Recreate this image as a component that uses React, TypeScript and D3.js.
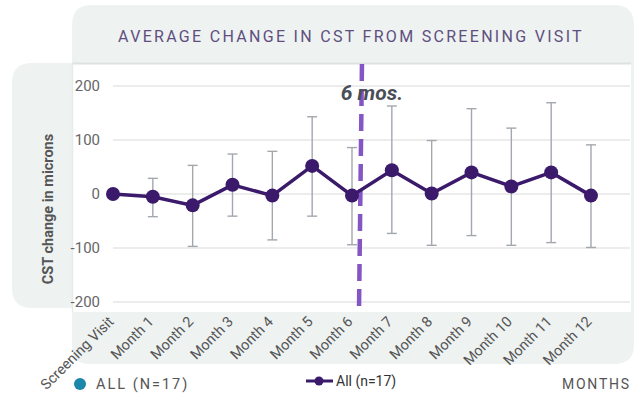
import React from "react";
import * as d3 from "d3";

const categories = [
  "Screening Visit", "Month 1", "Month 2", "Month 3", "Month 4", "Month 5", "Month 6",
  "Month 7", "Month 8", "Month 9", "Month 10", "Month 11", "Month 12",
];
const means = [0, -5, -21, 17, -3, 52, -3, 44, 1, 40, 14, 40, -3];
const upper = [null, 29, 53, 74, 79, 143, 86, 163, 99, 158, 122, 169, 91];
const lower = [null, -42, -97, -41, -85, -41, -94, -73, -95, -77, -95, -90, -99];
const yTicks = [200, 100, 0, -100, -200];

const W = 644;
const H = 400;
const BG = "#eef2f1";
const PURPLE = "#3b1a6b";
const FONT = "Roboto, 'Noto Sans', sans-serif";

export default function App() {
  const x = d3.scalePoint<string>().domain(categories).range([113, 591]);
  const y = d3.scaleLinear().domain([-200, 200]).range([302, 86]);

  const pts = categories.map((c, i) => ({ c, v: means[i], hi: upper[i], lo: lower[i] }));
  const line = d3
    .line<{ c: string; v: number }>()
    .x((d) => x(d.c)!)
    .y((d) => y(d.v));

  const x6 = x("Month 6")!;
  const x7 = x("Month 7")!;
  const markX = x6 + (x7 - x6) * 0.2;

  return (
    <svg
      width={W}
      height={H}
      style={{ position: "absolute", left: 0, top: 0, fontFamily: FONT }}
    >
      {/* top + right + bottom gray frame */}
      <path
        d="M72,25 Q72,5 92,5 L614,5 Q634,5 634,25 L634,345 Q634,364 614,364 L90,364 Q72,364 72,346 Z"
        fill={BG}
      />
      {/* left label panel */}
      <path d="M72,63 L32,63 Q12,63 12,83 L12,288 Q12,308 32,308 L72,308 Z" fill={BG} />
      {/* plot area */}
      <rect x={72} y={63} width={559} height={249} fill="#fff" />
      <line x1={72} x2={631} y1={63.5} y2={63.5} stroke="#dde2e1" strokeWidth={2} />
      <line x1={72.5} x2={72.5} y1={63} y2={312} stroke="#e6eae9" strokeWidth={1.5} />

      <text
        x={351}
        y={42}
        textAnchor="middle"
        fontSize={16}
        letterSpacing={2.3}
        fill="#5e4f80"
      >
        AVERAGE CHANGE IN CST FROM SCREENING VISIT
      </text>

      {/* grid + y ticks */}
      {yTicks.map((t) => (
        <g key={t}>
          <line x1={113} x2={630} y1={y(t)} y2={y(t)} stroke="#d9d9d9" strokeWidth={1} />
          <text x={100} y={y(t)} dy="0.36em" textAnchor="end" fontSize={15} fill="#666">
            {t}
          </text>
        </g>
      ))}

      <text
        transform="translate(53,209) rotate(-90)"
        textAnchor="middle"
        fontSize={14.5}
        fontWeight="bold"
        fill="#555"
      >
        CST change in microns
      </text>

      {/* 6 month marker */}
      <line
        x1={markX + 2}
        x2={markX - 1}
        y1={64}
        y2={312}
        stroke="#8455c5"
        strokeWidth={4.5}
        strokeDasharray="17 8"
      />
      <text
        x={markX + 12}
        y={100}
        textAnchor="middle"
        fontSize={21}
        fontWeight="bold"
        fontStyle="italic"
        fill="#4a4f57"
      >
        6 mos.
      </text>

      {/* error bars */}
      {pts
        .filter((d) => d.hi !== null)
        .map((d) => {
          const cx = x(d.c)!;
          return (
            <g key={d.c} stroke="#a3a7ae" strokeWidth={1.4}>
              <line x1={cx} x2={cx} y1={y(d.hi as number)} y2={y(d.lo as number)} />
              <line x1={cx - 5} x2={cx + 5} y1={y(d.hi as number)} y2={y(d.hi as number)} />
              <line x1={cx - 5} x2={cx + 5} y1={y(d.lo as number)} y2={y(d.lo as number)} />
            </g>
          );
        })}

      <path d={line(pts) || ""} fill="none" stroke={PURPLE} strokeWidth={3.5} />
      {pts.map((d) => (
        <circle key={d.c} cx={x(d.c)} cy={y(d.v)} r={7} fill={PURPLE} />
      ))}

      {/* x labels */}
      {categories.map((c) => (
        <text
          key={c}
          transform={`translate(${x(c)! - 2},319) rotate(-45)`}
          textAnchor="end"
          dy="0.35em"
          fontSize={14.5}
          fill="#555"
        >
          {c}
        </text>
      ))}

      {/* legends */}
      <circle cx={80} cy={384} r={6} fill="#1b87aa" />
      <text x={96} y={389} fontSize={14.5} letterSpacing={2} fill="#555">
        ALL (N=17)
      </text>

      <line x1={306} x2={333} y1={381} y2={381} stroke={PURPLE} strokeWidth={3} />
      <circle cx={319} cy={381} r={4.5} fill={PURPLE} />
      <text x={336} y={386} fontSize={14} fill="#333">
        All (n=17)
      </text>

      <text x={631} y={389} textAnchor="end" fontSize={14} letterSpacing={1.8} fill="#555">
        MONTHS
      </text>
    </svg>
  );
}
